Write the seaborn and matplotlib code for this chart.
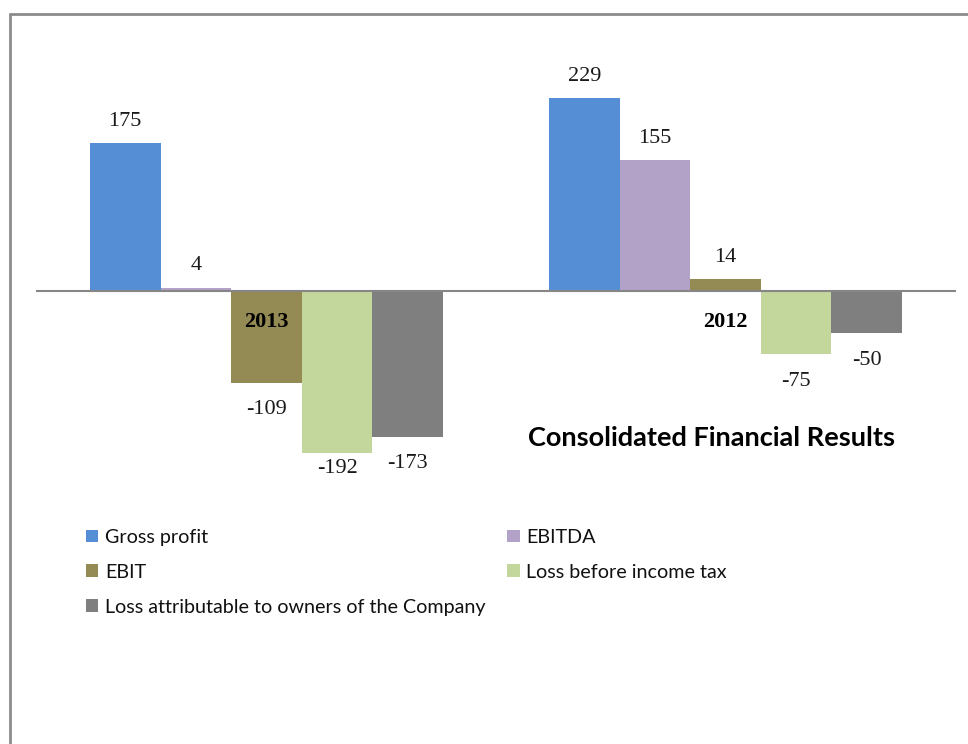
import matplotlib
matplotlib.use("Agg")
import matplotlib.pyplot as plt
from matplotlib.lines import Line2D
from matplotlib.patches import Patch
import seaborn as sns
import pandas as pd

years = ["2013", "2012"]
series = [
    "Gross profit",
    "EBITDA",
    "EBIT",
    "Loss before income tax",
    "Loss attributable to owners of the Company",
]
values_2013 = [175, 4, -109, -192, -173]
values_2012 = [229, 155, 14, -75, -50]
colors = ["#558ED5", "#B3A2C7", "#948A54", "#C3D69B", "#7F7F7F"]
title = "Consolidated Financial Results"

rows = []
for year, vals in zip(years, [values_2013, values_2012]):
    for name, v in zip(series, vals):
        rows.append({"year": year, "series": name, "value": v})
df = pd.DataFrame(rows)

sns.set_theme(style="white")
plt.rcParams["font.family"] = ["Lato", "DejaVu Sans"]

W, H, DPI = 968, 744, 100
fig = plt.figure(figsize=(W / DPI, H / DPI), dpi=DPI)
fig.patch.set_facecolor("white")

# plot area: zero line sits ~291 px from the top, 0.843 px per unit
y_lo, y_hi = -250, 300
ppu = 0.843
zero_px = 291
top_px = zero_px - y_hi * ppu
bot_px = zero_px - y_lo * ppu
ax = fig.add_axes([37 / W, (H - bot_px) / H, (955 - 37) / W, (bot_px - top_px) / H])

group_width = 5 / 6.5
sns.barplot(
    data=df, x="year", y="value", hue="series",
    order=years, hue_order=series, palette=colors,
    width=group_width, saturation=1, linewidth=0, legend=False, ax=ax,
)
ax.set_xlim(-0.5, 1.5)
ax.set_ylim(y_lo, y_hi)

# axis styling: only the category axis, drawn through zero and over the bars
ax.set_axisbelow(False)
for side in ["top", "right", "left"]:
    ax.spines[side].set_visible(False)
ax.spines["bottom"].set_position(("data", 0))
ax.spines["bottom"].set_color("#868686")
ax.spines["bottom"].set_linewidth(1.5)
ax.set_yticks([])
ax.set_xlabel("")
ax.set_ylabel("")
ax.grid(False)
ax.set_facecolor("none")

ax.set_xticks([0, 1])
ax.set_xticklabels(years, family="Liberation Serif", fontsize=16,
                   fontweight="bold", color="black")
ax.tick_params(axis="x", which="major", length=0, pad=15)
ax.set_xticks([-0.5, 0.5, 1.5], minor=True)
ax.tick_params(axis="x", which="minor", length=5, width=1.5, color="#868686",
               direction="out")

# value labels above positive bars, below negative ones
label_floor = -210
for patch in ax.patches:
    h = patch.get_height()
    if patch.get_width() == 0:
        continue
    x = patch.get_x() + patch.get_width() / 2
    if h >= 0:
        y = h + 26
    else:
        y = max(h - 32, label_floor)
    ax.text(x, y, f"{int(round(h))}", ha="center", va="center",
            family="Liberation Serif", fontsize=16, color="#1a1a1a", clip_on=False)

# chart title
fig.text(711 / W, 1 - 438 / H, title, ha="center", va="center",
         fontsize=19.5, fontweight="bold", color="black")

# legend, filled row by row
handles = [Patch(facecolor=c, edgecolor="none", label=s) for c, s in zip(colors, series)]
order = [0, 2, 4, 1, 3]
leg = fig.legend(
    [handles[i] for i in order], [series[i] for i in order],
    loc="upper left", bbox_to_anchor=(86 / W, 1 - 529 / H),
    ncol=2, frameon=False, fontsize=14.2,
    handlelength=0.62, handleheight=0.62, handletextpad=0.35,
    labelspacing=0.9, columnspacing=1.1, borderpad=0, borderaxespad=0,
)
for t in leg.get_texts():
    t.set_color("#111111")

# outer chart frame
frame_kw = dict(color="#8C8C8C", linewidth=2, transform=fig.transFigure)
fig.add_artist(Line2D([10 / W, 1.01], [1 - 14 / H, 1 - 14 / H], **frame_kw))
fig.add_artist(Line2D([10 / W, 10 / W], [-0.01, 1 - 14 / H], **frame_kw))

fig.savefig("out.png", dpi=DPI, facecolor="white")
